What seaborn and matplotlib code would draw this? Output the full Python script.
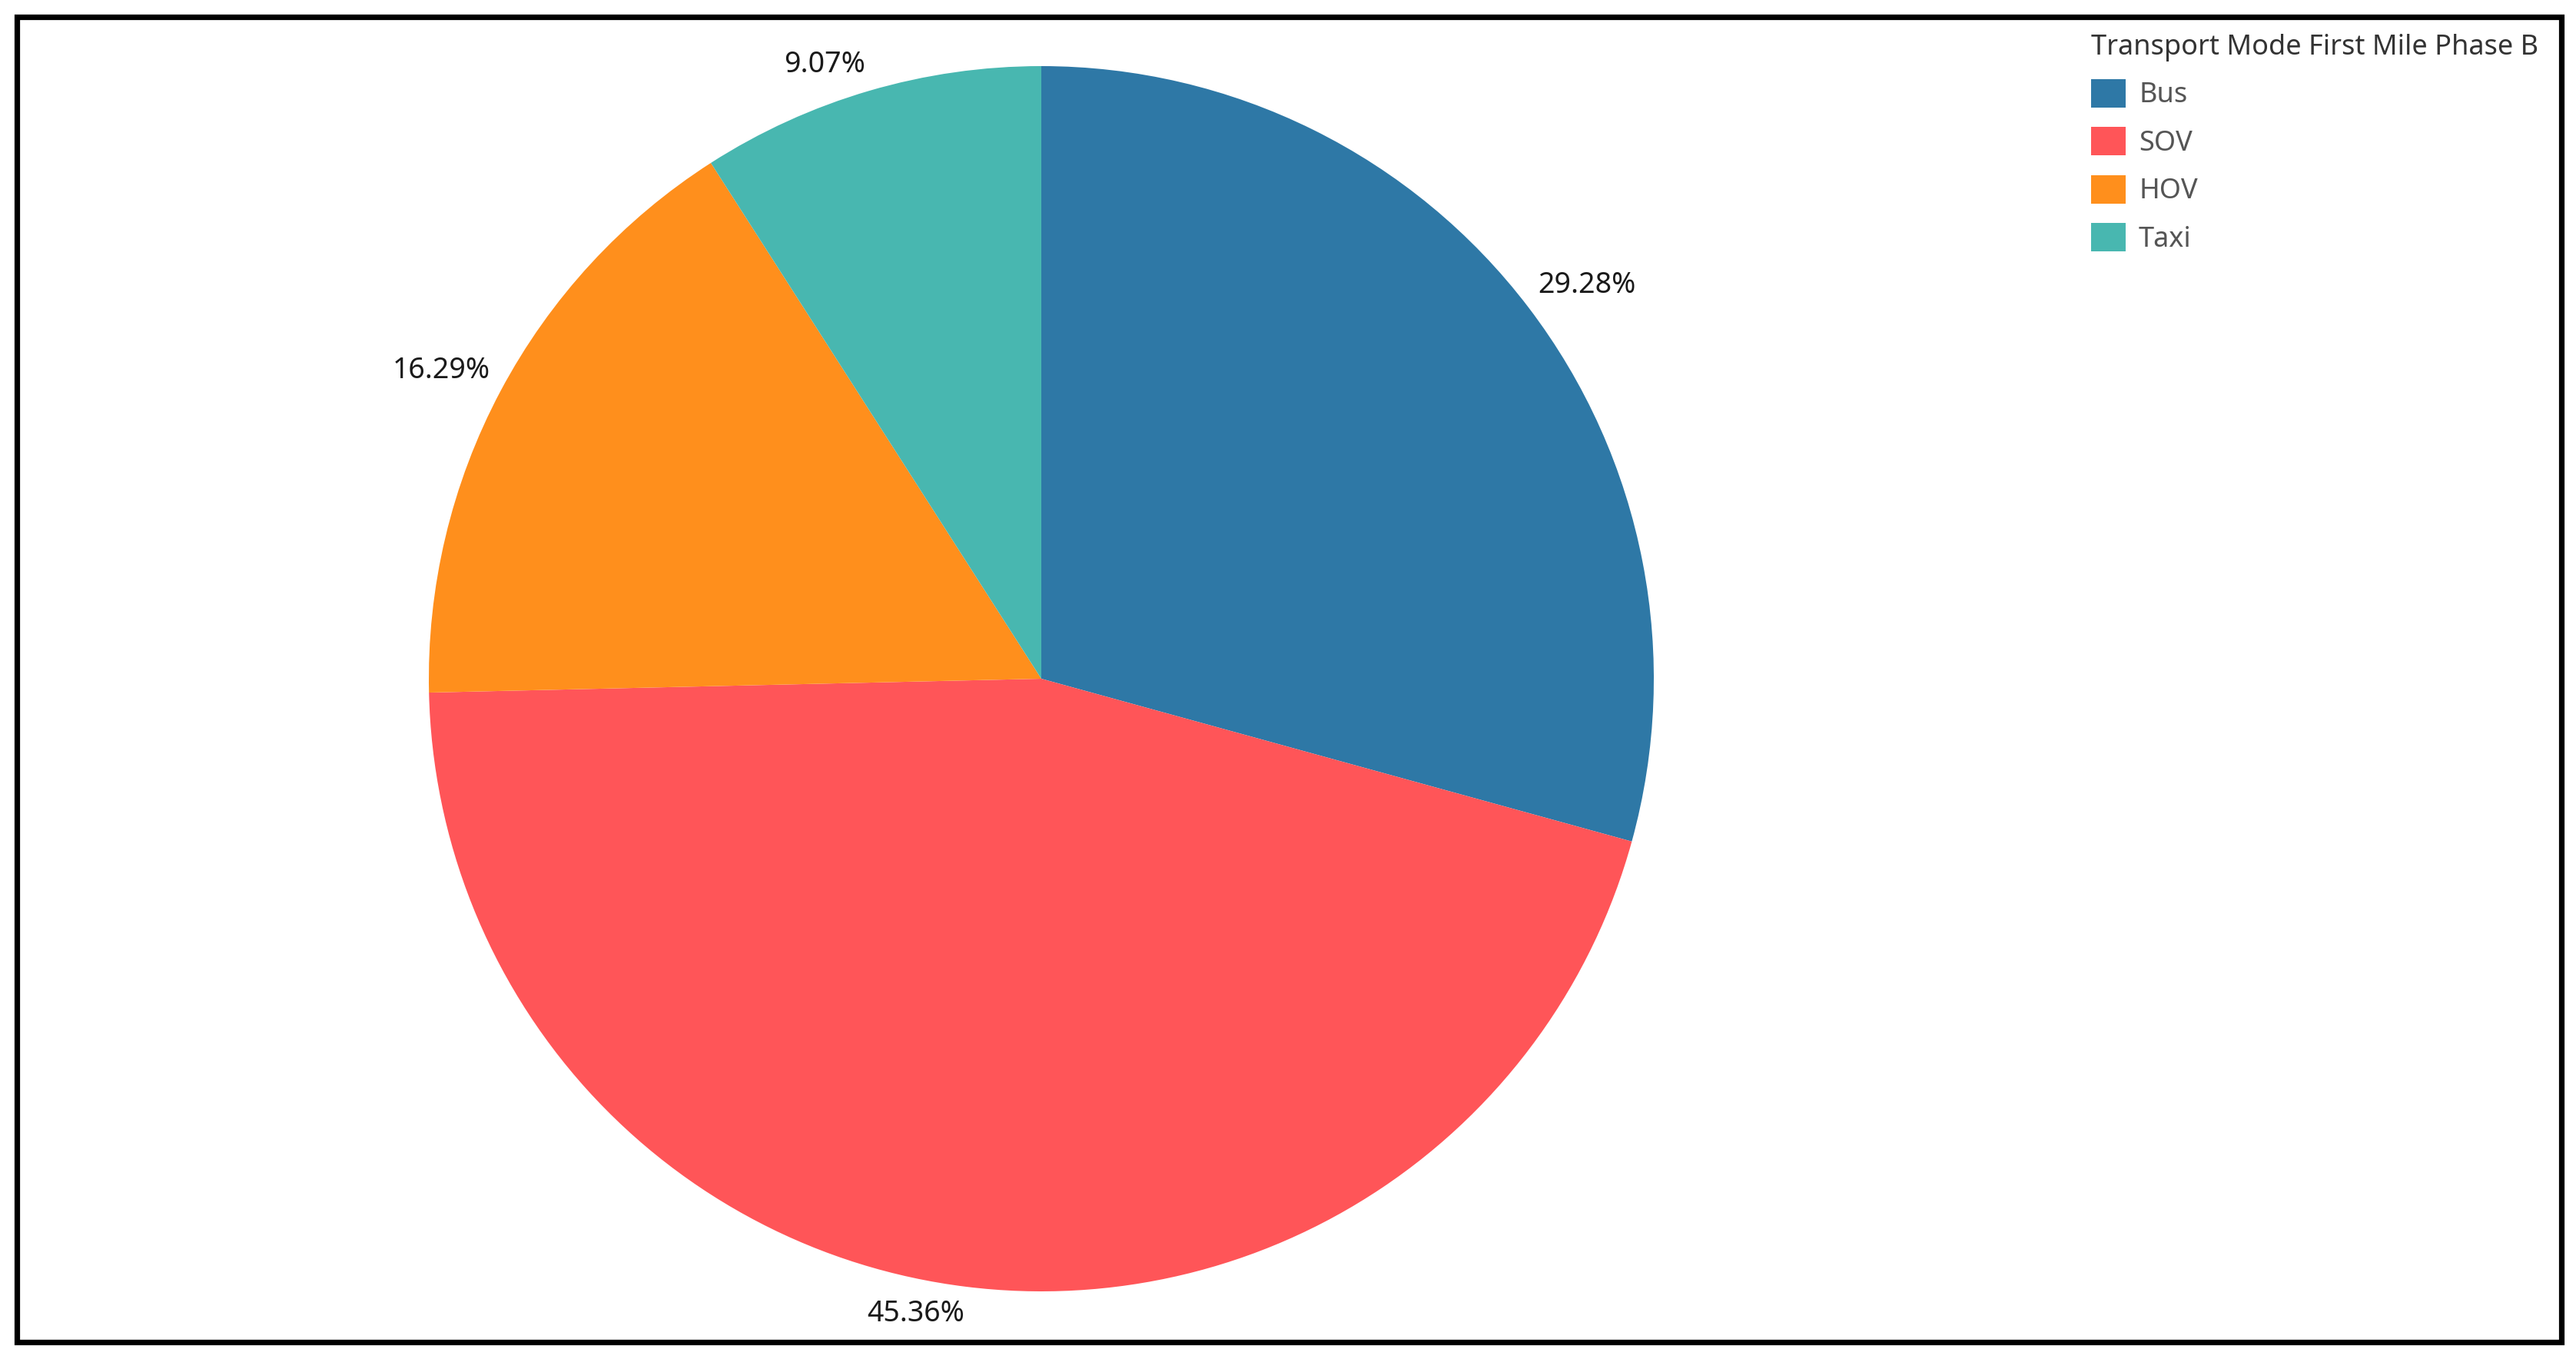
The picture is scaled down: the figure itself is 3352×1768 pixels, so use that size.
import numpy as np
import matplotlib
matplotlib.use("Agg")
import matplotlib.pyplot as plt
import matplotlib.patches as mpatches
import seaborn as sns

# data
modes = ["Bus", "SOV", "HOV", "Taxi"]
shares = [29.28, 45.36, 16.29, 9.07]
pct_labels = ["29.28%", "45.36%", "16.29%", "9.07%"]
colors = ["#2E78A6", "#FF5558", "#FF8F1C", "#48B7B0"]

sns.set_theme(style="white")
plt.rcParams["font.family"] = ["Noto Sans", "DejaVu Sans"]

W, H = 3352, 1768
fig = plt.figure(figsize=(W / 200, H / 200), dpi=200)

# pie axes: centre ~ (1355, 883) px, radius ~ 797 px
cx, cy, r = 1355, 883, 797
ax = fig.add_axes([(cx - r) / W, (H - cy - r) / H, 2 * r / W, 2 * r / H])
wedges, _ = ax.pie(shares, colors=sns.color_palette(colors), startangle=90,
                   counterclock=False, radius=1,
                   wedgeprops=dict(linewidth=0))
ax.set_xlim(-1, 1)
ax.set_ylim(-1, 1)
ax.set_aspect("equal")
ax.axis("off")

# labels sit just outside the rim, anchored by the box corner nearest the centre
for w, lab in zip(wedges, pct_labels):
    mid = np.deg2rad((w.theta1 + w.theta2) / 2)
    x, y = 1.02 * np.cos(mid), 1.02 * np.sin(mid)
    ax.text(x, y, lab, ha="left" if x >= 0 else "right",
            va="bottom" if y >= 0 else "top",
            fontsize=13.5, color="#1a1a1a", fontweight="medium", clip_on=False)

handles = [mpatches.Patch(facecolor=c, edgecolor="none", label=m) for m, c in zip(modes, colors)]
leg = fig.legend(handles=handles, title="Transport Mode First Mile Phase B",
                 loc="upper left", bbox_to_anchor=(2721 / W, 1 - 44 / H),
                 frameon=False, fontsize=13, alignment="left",
                 title_fontproperties=dict(size=13, weight="semibold"),
                 handlelength=1.25, handleheight=1.2, handletextpad=0.47,
                 labelspacing=0.63, borderaxespad=0, borderpad=0)
leg.get_title().set_color("#333333")
for t in leg.get_texts():
    t.set_color("#555555")

# black frame around the whole picture
fig.patches.append(mpatches.Rectangle((22 / W, 22 / H), (3333 - 22) / W, (1746 - 22) / H,
                                      transform=fig.transFigure, fill=False,
                                      edgecolor="black", linewidth=2.6))

fig.savefig("out.png", dpi=200, facecolor="white")
